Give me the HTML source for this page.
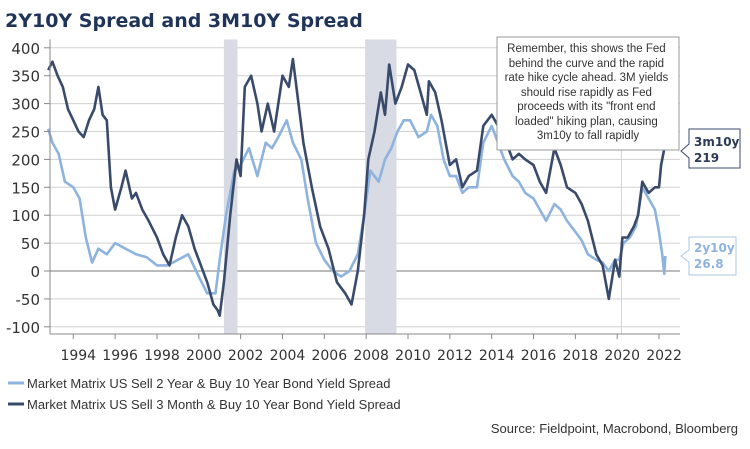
<!DOCTYPE html>
<html><head><meta charset="utf-8">
<style>
body{margin:0;background:#fff;width:750px;height:449px;overflow:hidden;font-family:"DejaVu Sans","Liberation Sans",sans-serif;}
svg{display:block}
</style></head><body>
<svg id="chart" width="750" height="449" xmlns="http://www.w3.org/2000/svg">
<text x="5" y="27" font-size="19" font-weight="bold" fill="#1f3458">2Y10Y Spread and 3M10Y Spread</text>
<g id="grid"></g><g id="bands"></g><g id="series"></g><g id="axes"></g>
<g>
<rect x="497" y="37" width="182" height="113" fill="#fff" stroke="#999" stroke-width="1"/>
<text font-size="11.5" fill="#333" text-anchor="middle" font-family="'Liberation Sans',sans-serif">
<tspan x="588" y="52">Remember, this shows the Fed</tspan>
<tspan x="588" y="67">behind the curve and the rapid</tspan>
<tspan x="588" y="81">rate hike cycle ahead.  3M yields</tspan>
<tspan x="588" y="96">should rise rapidly as Fed</tspan>
<tspan x="588" y="110">proceeds with its "front end</tspan>
<tspan x="588" y="125">loaded" hiking plan, causing</tspan>
<tspan x="588" y="139">3m10y to fall rapidly</tspan>
</text></g>
<g>
<path d="M689,129 L740,129 L740,168 L689,168 L689,158 L681,151 L689,144 Z" fill="#fff" stroke="#3a4a6b" stroke-width="1"/>
<text x="694" y="146" font-size="12" font-weight="bold" fill="#2c3a57">3m10y</text>
<text x="694" y="162" font-size="12" font-weight="bold" fill="#2c3a57">219</text></g>
<g>
<path d="M689,237 L736,237 L736,275 L689,275 L689,262 L681,256 L689,250 Z" fill="#fff" stroke="#a8c6e6" stroke-width="1"/>
<text x="694" y="252" font-size="12" font-weight="bold" fill="#8db3de">2y10y</text>
<text x="694" y="268" font-size="12" font-weight="bold" fill="#8db3de">26.8</text></g>
<g>
<line x1="8" y1="383" x2="24" y2="383" stroke="#8db3de" stroke-width="3"/>
<text x="27" y="388" font-size="13" fill="#333" font-family="'Liberation Sans',sans-serif">Market Matrix US Sell 2 Year &amp; Buy 10 Year Bond Yield Spread</text>
<line x1="8" y1="404" x2="24" y2="404" stroke="#3a4a6b" stroke-width="3"/>
<text x="27" y="409" font-size="13" fill="#333" font-family="'Liberation Sans',sans-serif">Market Matrix US Sell 3 Month &amp; Buy 10 Year Bond Yield Spread</text>
</g>
<text x="738" y="433" font-size="13" fill="#333" text-anchor="end" font-family="'Liberation Sans',sans-serif">Source: Fieldpoint, Macrobond, Bloomberg</text>
</svg>
<script>
const yTicks=[400,350,300,250,200,150,100,50,0,-50,-100];
const xTicks=[1994,1996,1998,2000,2002,2004,2006,2008,2010,2012,2014,2016,2018,2020,2022];
const recessions=[[2001.2,2001.85],[2007.95,2009.45]];
const darkDates=[1992.8,1993.0,1993.25,1993.5,1993.75,1994.0,1994.25,1994.5,1994.75,1995.0,1995.2,1995.4,1995.6,1995.8,1996.0,1996.3,1996.5,1996.8,1997.0,1997.3,1997.6,1998.0,1998.3,1998.6,1998.9,1999.2,1999.5,1999.8,2000.1,2000.4,2000.7,2000.9,2001.0,2001.2,2001.5,2001.8,2002.0,2002.2,2002.5,2002.8,2003.0,2003.3,2003.6,2004.0,2004.3,2004.5,2004.7,2005.0,2005.4,2005.8,2006.2,2006.6,2007.0,2007.3,2007.6,2007.9,2008.1,2008.4,2008.7,2008.9,2009.1,2009.4,2009.7,2010.0,2010.3,2010.6,2010.9,2011.0,2011.3,2011.6,2012.0,2012.3,2012.6,2012.9,2013.3,2013.6,2014.0,2014.3,2014.6,2015.0,2015.3,2015.6,2016.0,2016.3,2016.6,2017.0,2017.3,2017.6,2018.0,2018.3,2018.6,2019.0,2019.3,2019.6,2019.9,2020.1,2020.25,2020.5,2020.8,2021.0,2021.2,2021.5,2021.8,2022.0,2022.1,2022.25];
const darkVals=[360,375,350,330,290,270,250,240,270,290,330,280,270,150,110,150,180,130,140,110,90,60,30,10,60,100,80,40,10,-20,-60,-70,-80,-20,100,200,170,330,350,300,250,300,250,350,330,380,320,230,150,80,40,-20,-40,-60,0,100,200,250,320,280,370,300,330,370,360,320,280,340,320,270,190,200,150,170,180,260,280,260,240,200,210,200,190,160,140,220,190,150,140,120,90,30,10,-50,20,-10,60,60,80,100,160,140,150,150,190,219];
const lightDates=[1992.8,1993.0,1993.3,1993.6,1994.0,1994.3,1994.6,1994.9,1995.2,1995.6,1996.0,1996.5,1997.0,1997.5,1998.0,1998.5,1999.0,1999.5,2000.0,2000.4,2000.8,2001.0,2001.3,2001.7,2002.0,2002.4,2002.8,2003.2,2003.5,2003.8,2004.2,2004.5,2004.9,2005.2,2005.6,2006.0,2006.4,2006.8,2007.2,2007.6,2007.9,2008.2,2008.6,2008.9,2009.2,2009.5,2009.8,2010.1,2010.5,2010.9,2011.1,2011.4,2011.7,2012.0,2012.3,2012.6,2012.9,2013.3,2013.6,2014.0,2014.3,2014.6,2015.0,2015.3,2015.6,2016.0,2016.3,2016.6,2017.0,2017.3,2017.6,2018.0,2018.3,2018.6,2019.0,2019.3,2019.6,2019.9,2020.1,2020.3,2020.6,2020.9,2021.2,2021.5,2021.8,2022.0,2022.15,2022.25,2022.3];
const lightVals=[255,230,210,160,150,130,60,15,40,30,50,40,30,25,10,10,20,30,-10,-40,-40,20,100,180,190,220,170,230,220,240,270,230,200,130,50,20,0,-10,0,30,100,180,160,200,220,250,270,270,240,250,280,260,200,170,170,140,150,150,230,260,230,200,170,160,140,130,110,90,120,110,90,70,55,30,20,15,0,20,20,50,60,80,150,130,110,70,30,-5,26.8];
const L=50,R=680,x0=2010,px0=408,ppy=20.92;
const xs=d=>px0+(d-x0)*ppy;
const ys=v=>271-v*0.558;
const NS="http://www.w3.org/2000/svg";
function mk(p,t,a){const e=document.createElementNS(NS,t);for(const k in a)e.setAttribute(k,a[k]);document.getElementById(p).appendChild(e);return e;}
yTicks.forEach(v=>{
 const g=mk('grid','line',{x1:L,x2:R,y1:ys(v),y2:ys(v),stroke:v===0?'#777':'#d0d0d0','stroke-width':1});
 
 
 const t=mk('axes','text',{x:40,y:ys(v)+6,'text-anchor':'end','font-size':15,fill:'#333'});
 t.textContent=v;
 
 
 mk('axes','line',{x1:L-6,x2:L,y1:ys(v),y2:ys(v),stroke:'#888'});
});
recessions.forEach(r=>{
 const b=mk('bands','rect',{x:xs(r[0]),y:ys(415),width:xs(r[1])-xs(r[0]),height:ys(-113)-ys(415),fill:'#d8dbe3'});
 
 
});
const vl=mk('bands','line',{x1:xs(2020.2),x2:xs(2020.2),y1:ys(415),y2:ys(-113),stroke:'#d0d0d0'});


mk('axes','line',{x1:L,x2:L,y1:ys(415),y2:ys(-113),stroke:'#888'});
mk('axes','line',{x1:L,x2:R,y1:ys(-113),y2:ys(-113),stroke:'#888'});
xTicks.forEach(yr=>{
 mk('axes','line',{x1:xs(yr),x2:xs(yr),y1:ys(-113),y2:ys(-113)+5,stroke:'#888'});
 const t=mk('axes','text',{x:xs(yr)+5,y:360,'text-anchor':'middle','font-size':14,fill:'#333'});
 t.textContent=yr;
 
 
});
function line(d,v,c,name){
 const p=mk('series','path',{d:d.map((x,i)=>(i?'L':'M')+xs(x).toFixed(1)+','+ys(v[i]).toFixed(1)).join(''),fill:'none',stroke:c,'stroke-width':2.6,'stroke-linejoin':'round'});
 
 
}
line(lightDates,lightVals,'#8db3de','series-2y10y');
line(darkDates,darkVals,'#3a4a6b','series-3m10y');
</script>
</body></html>
